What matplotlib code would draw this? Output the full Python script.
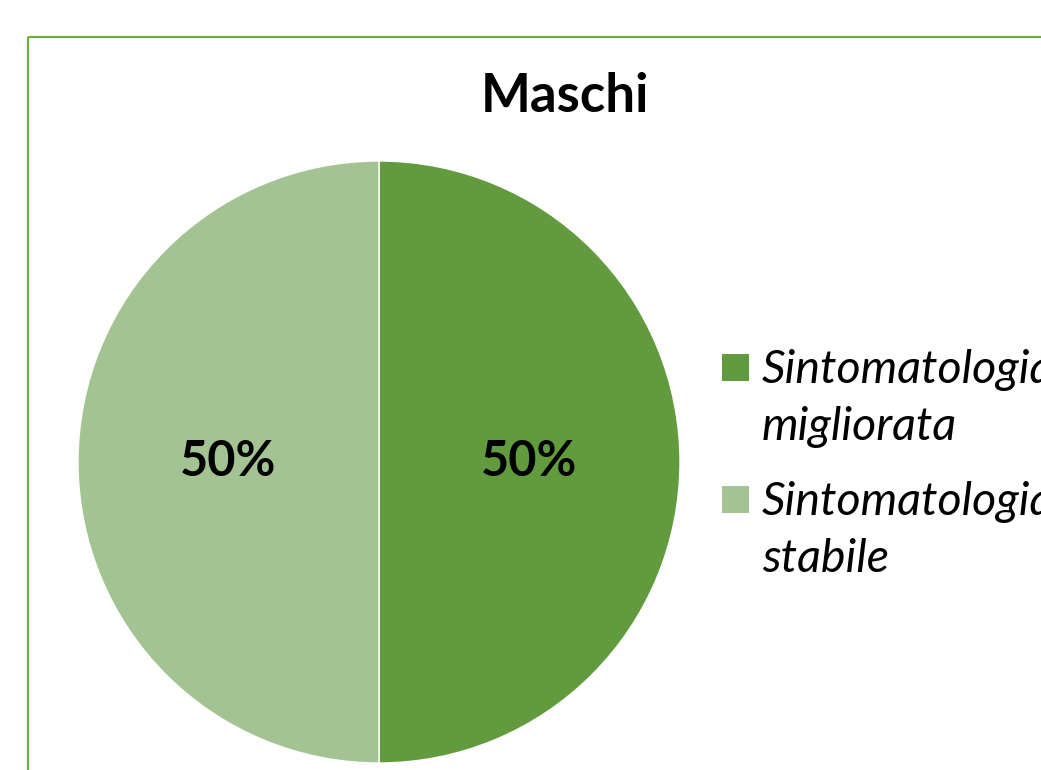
import matplotlib
matplotlib.use('Agg')
import matplotlib.pyplot as plt
from matplotlib.patches import Rectangle

# Data
labels = ['Sintomatologia\nmigliorata', 'Sintomatologia\nstabile']
values = [50, 50]
colors = ['#629A3E', '#A3C492']
title = 'Maschi'

plt.rcParams['font.family'] = ['Lato', 'DejaVu Sans']

W, H = 1041, 770
fig = plt.figure(figsize=(W/100, H/100), dpi=100)

# Chart border (runs off the right and bottom edges)
border = Rectangle((28/W, 1 - 37/H), 1.2, -1.2, transform=fig.transFigure,
                   fill=False, edgecolor='#70AD47', linewidth=1.6, clip_on=False)
fig.patches.append(border)

# Pie
ax = fig.add_axes([78/W, 7/H, 602/W, 602/H])
wedges, texts, autotexts = ax.pie(values, colors=colors, startangle=90, counterclock=False,
                                  autopct='%d%%', pctdistance=0.5,
                                  wedgeprops=dict(edgecolor='white', linewidth=1))
for t in autotexts:
    t.set_fontsize(35)
    t.set_fontweight('bold')
    t.set_color('black')
ax.set_xlim(-1, 1)
ax.set_ylim(-1, 1)
ax.set_aspect('equal')
ax.axis('off')

fig.text(565/W, 1 - 97/H, title, ha='center', va='center', fontsize=38, fontweight='bold')

# Legend: square aligned with first line of each label
for i, (lab, col) in enumerate(zip(labels, colors)):
    top = 354 + 132*i
    fig.patches.append(Rectangle((722/W, 1 - (top + 27)/H), 27/W, 27/H,
                                 transform=fig.transFigure, facecolor=col, edgecolor='none'))
    # va='baseline' puts the last line's baseline here
    fig.text(762/W, 1 - (440 + 132*i)/H, lab, ha='left', va='baseline',
             fontsize=33.5, style='italic', linespacing=1.45)

fig.savefig('out.png', dpi=100)
